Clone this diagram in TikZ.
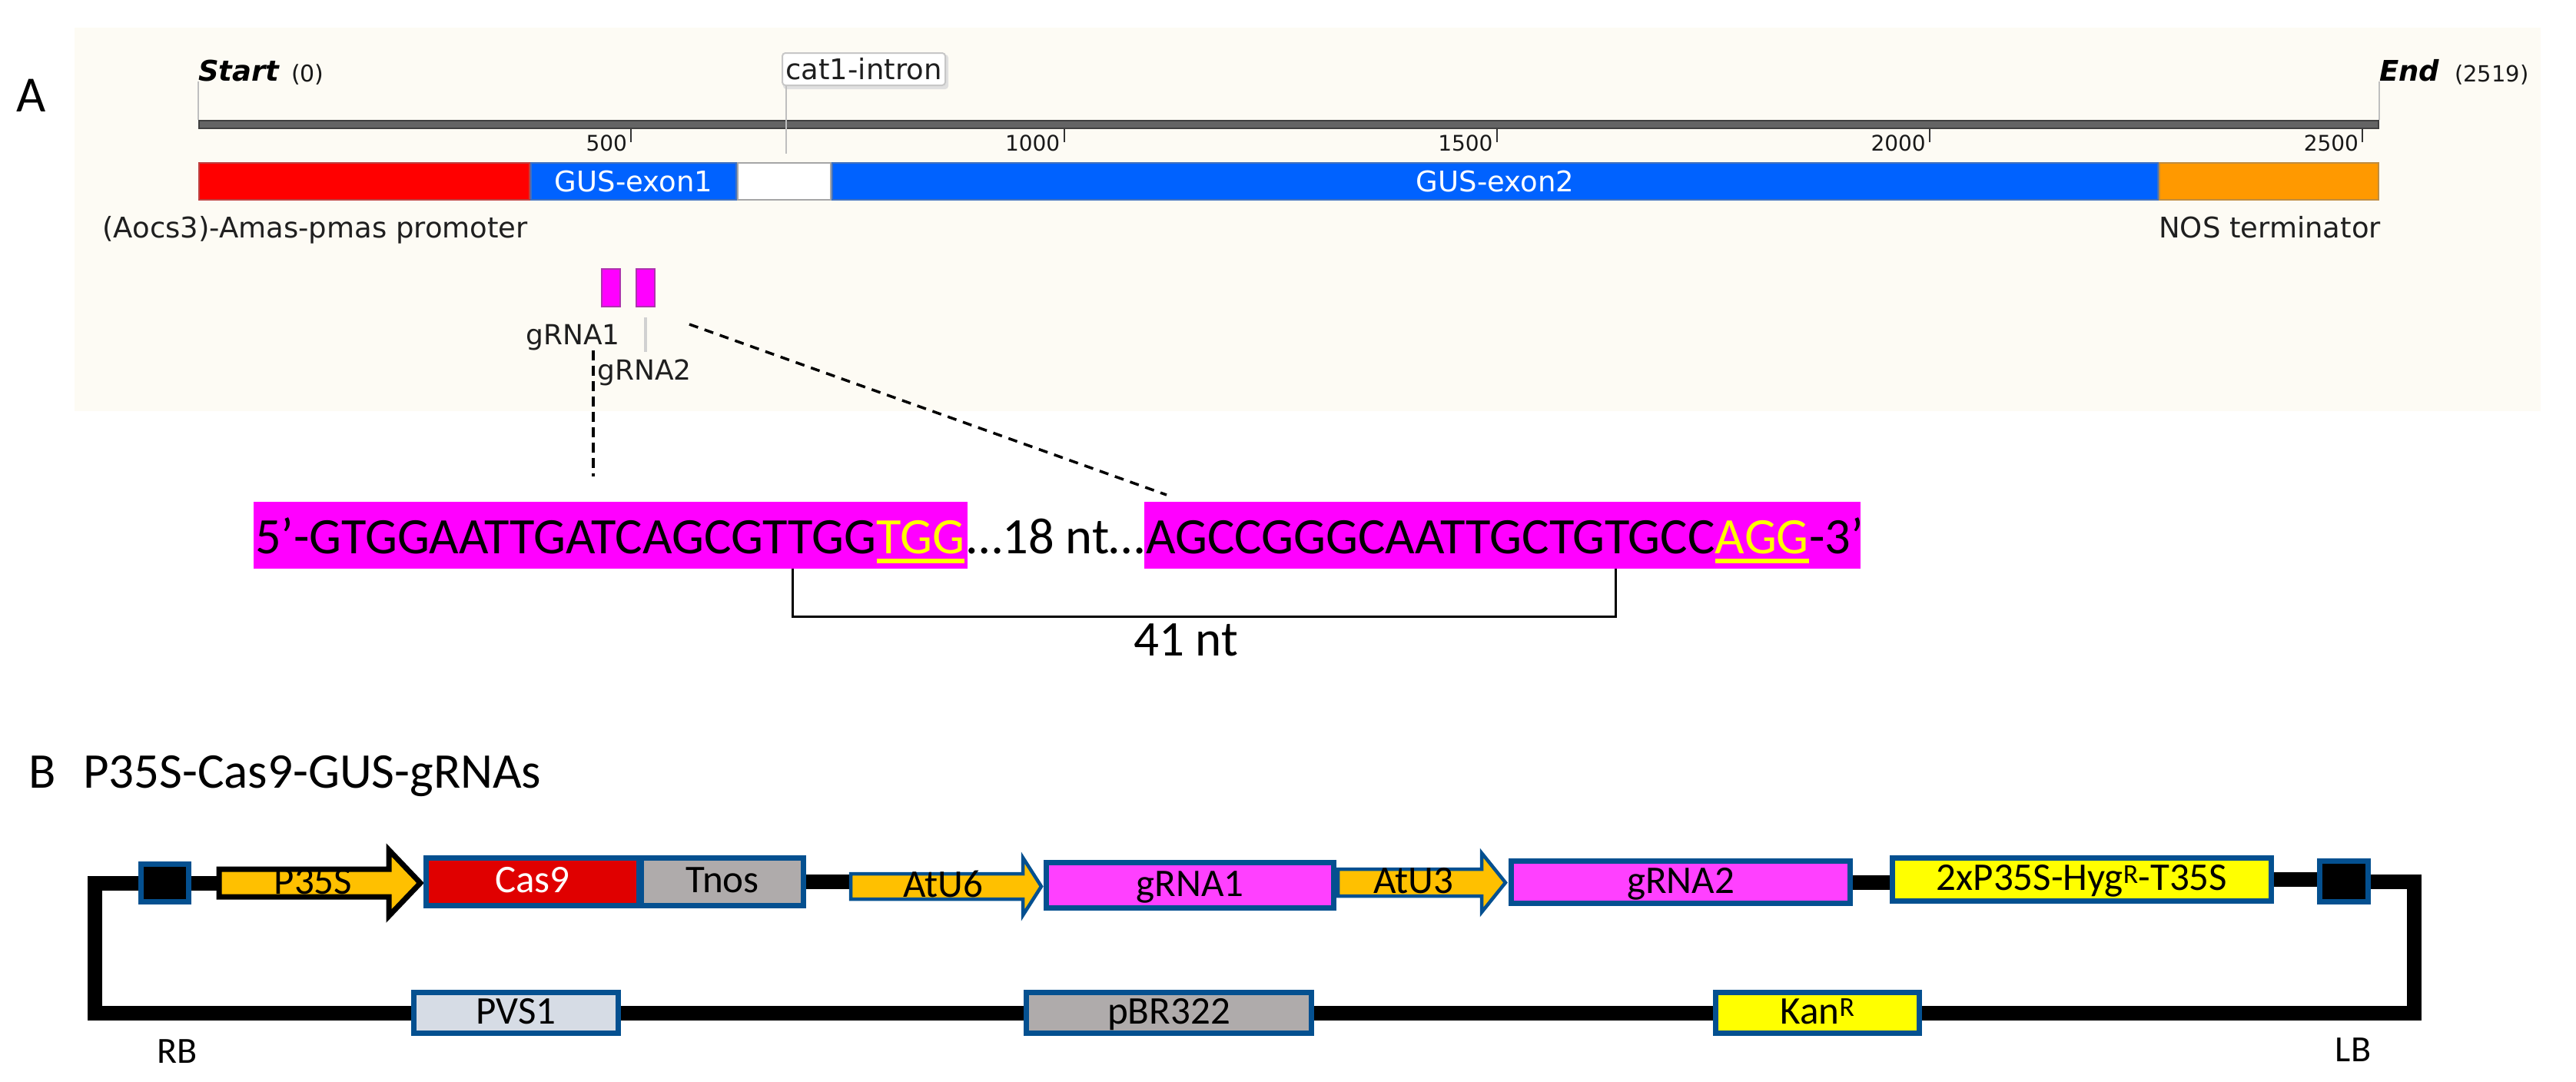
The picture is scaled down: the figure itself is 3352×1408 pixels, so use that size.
\documentclass[tikz,border=0pt]{standalone}
\usepackage{fontspec}
\newfontfamily\calfont{Carlito}
\newfontfamily\sgfont{DejaVu Sans}
\usetikzlibrary{backgrounds}
\definecolor{bblue}{RGB}{4,80,144}
\definecolor{gold}{RGB}{255,192,0}
\definecolor{casred}{RGB}{224,0,0}
\definecolor{tgray}{RGB}{175,171,171}
\definecolor{gmag}{RGB}{255,64,255}
\definecolor{pvsblue}{RGB}{214,220,229}
\definecolor{yel}{RGB}{255,255,0}
\definecolor{seqmag}{RGB}{255,0,255}
\definecolor{snapblue}{RGB}{0,98,255}
\definecolor{snaporange}{RGB}{255,153,0}
\definecolor{snapred}{RGB}{255,0,0}
\definecolor{beige}{RGB}{253,251,244}
\definecolor{rulergray}{RGB}{100,100,100}
\begin{document}
\begin{tikzpicture}[x=1pt,y=-1pt,
  sg/.style={font=\sgfont\fontsize{37}{40}\selectfont, inner sep=0pt, text=black!88},
  sgnum/.style={font=\sgfont\fontsize{28}{30}\selectfont, inner sep=0pt, text=black!90},
  sgbold/.style={font=\sgfont\bfseries\itshape\fontsize{37}{40}\selectfont, inner sep=0pt},
  gline/.style={draw=black!25, line width=2pt},
  seg/.style={line width=2pt, minimum height=48pt, inner sep=0pt, font=\sgfont\fontsize{37}{40}\selectfont, text=white, text height=27pt, text depth=0pt},
  gmark/.style={fill=seqmag, draw=seqmag!60!black!80, line width=2pt, minimum width=24pt, minimum height=49pt, inner sep=0pt},
  dashA/.style={line width=3.5pt, dash pattern=on 13pt off 7pt},
  dashB/.style={line width=3.5pt, dash pattern=on 12pt off 9pt},
  seqbox/.style={fill=seqmag, inner sep=0pt, minimum height=87pt},
  seqtxt/.style={font=\calfont\fontsize{66.5}{70}\selectfont, inner sep=0pt},
  bigtxt/.style={font=\calfont\fontsize{65}{70}\selectfont, inner sep=0pt},
  bbox/.style={draw=bblue, line width=7pt, inner sep=0pt, font=\calfont\fontsize{51}{55}\selectfont, text height=28pt, text depth=0pt},
  arrtxt/.style={inner sep=0pt, font=\calfont\fontsize{51}{55}\selectfont, text height=28pt, text depth=0pt},
  bline/.style={line width=19pt, line join=miter, draw=black},
  bracketline/.style={line width=3pt, line join=miter}
]
\useasboundingbox (0,0) rectangle (3352,1408);

% ---------------- Part A ----------------
\node[font=\calfont\fontsize{66}{70}\selectfont, inner sep=0pt, anchor=base west] (alab) at (21,145) {A};
\fill[beige] (97,36) rectangle (3306,535);

\node[sgbold, anchor=base west] (start) at (258,105) {Start};
\node[sgnum, font=\sgfont\fontsize{30}{32}\selectfont, anchor=base west] (start0) at (379,106) {(0)};
\node[sgbold, anchor=base west] (endl) at (3096,105) {End};
\node[sgnum, font=\sgfont\fontsize{29}{32}\selectfont, anchor=base west] (end0) at (3194,106) {(2519)};

\node[draw=black!75, fill=rulergray, line width=2pt, minimum width=2836pt, minimum height=10pt, inner sep=0pt] (ruler) at (1677,162) {};
\draw[gline] (start.south west) -- (start.south west |- ruler.north);
\draw[gline] (endl.south west) -- (endl.south west |- ruler.north);
\foreach \v in {500,1000,1500,2000,2500} {
  \draw[line width=2pt, black!80] ({258+1.1265*\v},168) -- ++(0,17);
  \node[sgnum, anchor=base east] (tk\v) at ({253+1.1265*\v},196) {\v};
}

\fill[black!12, rounded corners=4pt] (1019,71) rectangle (1234,116);
\node[sg, draw=black!22, fill=white, rounded corners=4pt, line width=2pt, minimum width=212pt, minimum height=42pt, text height=27pt, text depth=0pt] (cat) at (1124,90) {cat1-intron};

\node[seg, fill=snapred, draw=snapred!50!gray, minimum width=430pt] (prom) at (474,236) {};
\node[seg, fill=snapblue, draw=snapblue!50!gray, minimum width=267pt] (ex1) at (824.5,236) {GUS-exon1};
\node[seg, fill=white, draw=black!35, minimum width=121pt] (intr) at (1020.5,236) {};
\node[seg, fill=snapblue, draw=snapblue!50!gray, minimum width=1725pt] (ex2) at (1945.5,236) {GUS-exon2};
\node[seg, fill=snaporange, draw=snaporange!50!gray, minimum width=285pt] (nos) at (2952.5,236) {};
\draw[gline] ([xshift=6pt]cat.south west) -- ++(0,88);

\node[sg, anchor=base east] (promlab) at (687,309) {(Aocs3)-Amas-pmas promoter};
\node[sg, anchor=base west] (noslab) at (2809,309) {NOS terminator};

\node[gmark] (gm1) at (795,374.5) {};
\node[gmark] (gm2) at (839.5,374.5) {};
\node[sg, font=\sgfont\fontsize{36}{40}\selectfont, anchor=base east] (g1lab) at (807,448) {gRNA1};
\node[sg, font=\sgfont\fontsize{36}{40}\selectfont, anchor=base west] (g2lab) at (777,494) {gRNA2};
\draw[line width=4pt, black!18] ([yshift=-13pt]gm2.south) -- ++(0,45);

\coordinate (d1e) at (772,620);
\draw[dashA] (g1lab.south -| d1e) -- (d1e);
\coordinate (d2s) at (897,422);
\coordinate (d2e) at (1518,644);
\draw[dashB] (d2s) -- (d2e);

% sequence
\node[seqbox, minimum width=929pt] (box1) at (794.5,696.5) {};
\node[seqbox, minimum width=932pt] (box2) at (1955,696.5) {};
\node[seqtxt, anchor=base west] (seq1) at (332,720) {5’-GTGGAATTGATCAGCGTTGG};
\node[seqtxt, text=yel, anchor=base west] (pam1) at (seq1.base east) {TGG};
\node[seqtxt, anchor=base] (gap) at (1374,720) {…18 nt…};
\node[seqtxt, anchor=base west] (seq2) at (1491,720) {AGCCGGGCAATTGCTGTGCC};
\node[seqtxt, text=yel, anchor=base west] (pam2) at (seq2.base east) {AGG};
\node[seqtxt, anchor=base west] (end3) at (pam2.base east) {-3’};
\draw[yel, line width=6pt] ([yshift=-10pt]pam1.base west) -- ([yshift=-10pt]pam1.base east);
\draw[yel, line width=6pt] ([yshift=-10pt]pam2.base west) -- ([yshift=-10pt]pam2.base east);

\coordinate (bl) at (1031,802);
\coordinate (br) at (2102,802);
\draw[bracketline] (box1.south -| bl) -- (bl) -- (br) -- (box2.south -| br);
\node[bigtxt, anchor=base] (n41) at (1543,853) {41 nt};

% ---------------- Part B ----------------
\node[bigtxt, anchor=base west] (blab) at (37,1025) {B};
\node[bigtxt, anchor=base west] (title) at (108,1025) {P35S-Cas9-GUS-gRNAs};

\node[bbox, fill=black, minimum width=62pt, minimum height=49pt] (rb) at (214.5,1149) {};
\draw[line width=7pt, fill=gold, line join=miter] (285,1131) -- (506,1131) -- (506,1106) -- (547,1149) -- (506,1192) -- (506,1167) -- (285,1167) -- cycle;
\node[arrtxt, minimum width=221pt, minimum height=36pt] (p35s) at (395.5,1149) {\hspace*{24pt}P35S};
\node[bbox, fill=casred, text=white, minimum width=277pt, minimum height=62pt] (cas) at (693,1147.5) {Cas9};
\node[bbox, fill=tgray, minimum width=211pt, minimum height=62pt] (tnos) at (940,1147.5) {Tnos};

\draw[line width=4.5pt, draw=bblue, fill=gold, line join=miter] (1107,1137) -- (1331,1137) -- (1331,1116) -- (1355,1153.5) -- (1331,1191) -- (1331,1170) -- (1107,1170) -- cycle;
\node[arrtxt, minimum width=224pt, minimum height=33pt] (atu6) at (1219,1153.5) {\hspace*{16pt}AtU6};
\node[bbox, fill=gmag, minimum width=374pt, minimum height=59pt] (g1) at (1548.5,1152) {gRNA1};
\draw[line width=4.5pt, draw=bblue, fill=gold, line join=miter] (1741,1131) -- (1928,1131) -- (1928,1110) -- (1959,1148.5) -- (1928,1187) -- (1928,1166) -- (1741,1166) -- cycle;
\node[arrtxt, minimum width=187pt, minimum height=35pt] (atu3) at (1834.5,1148.5) {\hspace*{10pt}AtU3};
\node[bbox, fill=gmag, minimum width=441pt, minimum height=55pt] (g2) at (2187,1148) {gRNA2};
\node[bbox, fill=yel, minimum width=493pt, minimum height=56pt] (hyg) at (2709,1144.5) {2xP35S-Hyg\textsuperscript{R}-T35S};
\node[bbox, fill=black, minimum width=63pt, minimum height=53pt] (lb) at (3050,1147) {};

\node[bbox, fill=pvsblue, minimum width=266pt, minimum height=53pt] (pvs) at (671.5,1318) {PVS1};
\node[bbox, fill=tgray, minimum width=371pt, minimum height=53pt] (pbr) at (1521,1318) {pBR322};
\node[bbox, fill=yel, minimum width=265pt, minimum height=53pt] (kan) at (2365,1318) {Kan\textsuperscript{R}};

\node[font=\calfont\fontsize{48}{52}\selectfont, inner sep=0pt, anchor=base] (rblab) at (231,1383) {RB};
\node[font=\calfont\fontsize{48}{52}\selectfont, inner sep=0pt, anchor=base] (lblab) at (3062,1381) {LB};

\coordinate (cl) at (123,1318);
\coordinate (cr) at (3141,1318);
\begin{scope}[on background layer]
\draw[bline] (rb.east) -- (rb.east -| p35s.west);
\draw[bline] (tnos.east) -- (tnos.east -| atu6.west);
\draw[bline] (g2.east) -- (g2.east -| hyg.west);
\draw[bline] (hyg.east) -- (hyg.east -| lb.west);
\draw[bline] (rb.west) -| (cl) -- (pvs.west);
\draw[bline] (pvs.east) -- (pbr.west);
\draw[bline] (pbr.east) -- (kan.west);
\draw[bline] (kan.east) -- (cr) |- (lb.east);
\end{scope}
\end{tikzpicture}
\end{document}
